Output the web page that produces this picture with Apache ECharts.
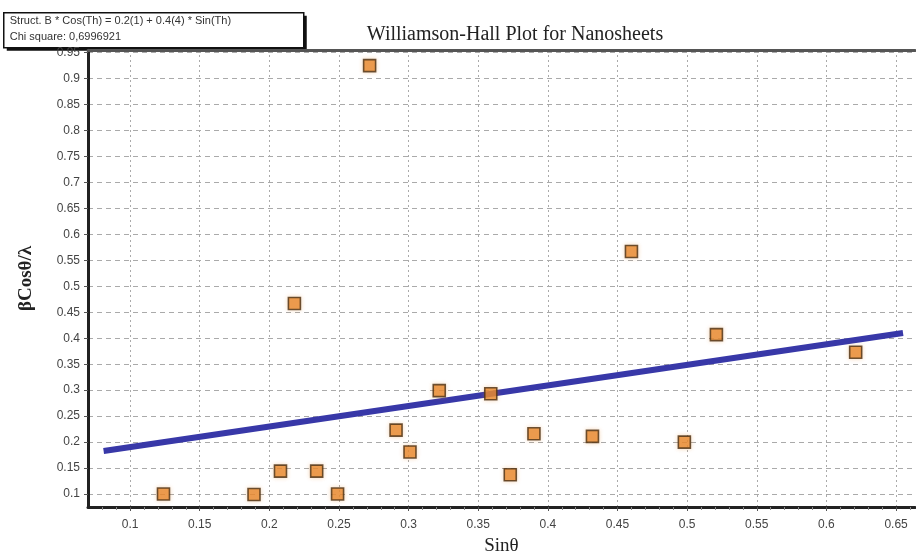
<!DOCTYPE html>
<html>
<head>
<meta charset="utf-8">
<script src="https://cdn.jsdelivr.net/npm/echarts@6/dist/echarts.min.js"></script>
<style>
html,body{margin:0;padding:0;background:#fff;}
#chart{width:916px;height:556px;}
</style>
</head>
<body>
<div id="chart"></div>
<script>
// Measured peak positions (sin θ) and β·cosθ/λ values
const sinTheta = [0.124, 0.189, 0.208, 0.234, 0.249, 0.218, 0.272, 0.291, 0.301, 0.322,
                  0.359, 0.373, 0.390, 0.432, 0.460, 0.498, 0.521, 0.621];
const betaCos  = [0.100, 0.099, 0.144, 0.144, 0.100, 0.467, 0.925, 0.223, 0.181, 0.299,
                  0.293, 0.137, 0.216, 0.211, 0.567, 0.200, 0.407, 0.373];

// Linear fit end points
const fitX = [0.081, 0.655];
const fitY = [0.183, 0.410];

// Tick labels
const xTicks = [0.1, 0.15, 0.2, 0.25, 0.3, 0.35, 0.4, 0.45, 0.5, 0.55, 0.6, 0.65];
const xMinorTicks = [0.08, 0.09, 0.11, 0.12, 0.13, 0.14, 0.16, 0.17, 0.18, 0.19, 0.21, 0.22, 0.23, 0.24,
                     0.26, 0.27, 0.28, 0.29, 0.31, 0.32, 0.33, 0.34, 0.36, 0.37, 0.38, 0.39, 0.41, 0.42,
                     0.43, 0.44, 0.46, 0.47, 0.48, 0.49, 0.51, 0.52, 0.53, 0.54, 0.56, 0.57, 0.58, 0.59,
                     0.61, 0.62, 0.63, 0.64, 0.66];
const yTicks = [0.1, 0.15, 0.2, 0.25, 0.3, 0.35, 0.4, 0.45, 0.5, 0.55, 0.6, 0.65,
                0.7, 0.75, 0.8, 0.85, 0.9, 0.95];

const fitLabel = ['Struct. B * Cos(Th) = 0.2(1) + 0.4(4) * Sin(Th)', 'Chi square: 0,6996921'];

const points = sinTheta.map((x, i) => [x, betaCos[i]]);
const fitLine = fitX.map((x, i) => [x, fitY[i]]);

const chart = echarts.init(document.getElementById('chart'));
const tickFont = { color: '#444', fontSize: 12, fontFamily: 'Liberation Sans, Arial, sans-serif' };
const X_MIN = 0.0698, X_MAX = 0.6636;

chart.setOption({
  backgroundColor: '#fff',
  animation: false,
  title: {
    text: 'Williamson-Hall Plot for Nanosheets',
    left: 510, top: 20, textAlign: 'center',
    textStyle: { fontFamily: 'Liberation Serif, Times New Roman, serif', fontWeight: 'normal', fontSize: 20, color: '#222' }
  },
  grid: { left: 88, right: 1, top: 50, bottom: 49, outerBoundsMode: 'none', containLabel: false },
  xAxis: [{
    type: 'value', min: X_MIN, max: X_MAX,
    name: 'Sinθ', nameLocation: 'middle', nameGap: 30,
    nameTextStyle: { fontFamily: 'Liberation Serif, Times New Roman, serif', fontSize: 19, color: '#222' },
    axisLine: { show: true, onZero: false, lineStyle: { color: '#222', width: 3 } },
    axisTick: { show: true, customValues: xTicks, length: 4, lineStyle: { color: '#555' } },
    axisLabel: { customValues: xTicks, margin: 12, formatter: v => String(+v.toFixed(2)), ...tickFont },
    splitLine: { show: true, customValues: xTicks, lineStyle: { color: '#aaa', type: [2, 3], width: 1 } }
  }, {
    // minor tick marks along the bottom axis
    type: 'value', position: 'bottom', min: X_MIN, max: X_MAX,
    axisLine: { show: false },
    axisTick: { show: true, customValues: xMinorTicks, length: 3, lineStyle: { color: '#888' } },
    axisLabel: { show: false }, splitLine: { show: false }
  }, {
    type: 'value', position: 'top', min: X_MIN, max: X_MAX,
    axisLine: { show: true, onZero: false, lineStyle: { color: '#555', width: 3 } },
    axisTick: { show: false }, axisLabel: { show: false }, splitLine: { show: false }
  }],
  yAxis: {
    type: 'value', min: 0.075, max: 0.955,
    name: 'βCosθ/λ', nameLocation: 'middle', nameGap: 52,
    nameTextStyle: { fontFamily: 'Liberation Serif, Times New Roman, serif', fontSize: 19, fontWeight: 'bold', color: '#222' },
    axisLine: { show: true, onZero: false, lineStyle: { color: '#222', width: 3 } },
    axisTick: { show: true, customValues: yTicks, length: 4, lineStyle: { color: '#555' } },
    axisLabel: { customValues: yTicks, margin: 8, formatter: v => String(+v.toFixed(2)), ...tickFont },
    splitLine: { show: true, customValues: yTicks, lineStyle: { color: '#aaa', type: [5, 4], width: 1 } }
  },
  series: [{
    type: 'line', data: fitLine, showSymbol: false, symbol: 'none',
    lineStyle: { color: '#3838a8', width: 6 }, z: 3
  }, {
    type: 'scatter', data: points, symbol: 'rect', symbolSize: 12,
    itemStyle: { color: '#e8892f', borderColor: '#4a2e12', borderWidth: 1.6,
                 shadowColor: 'rgba(230,140,50,0.35)', shadowBlur: 4 }, z: 4
  }],
  graphic: [{
    type: 'group', left: 3, top: 12,
    children: [
      { type: 'rect', shape: { x: 3, y: 3, width: 300, height: 35 }, style: { fill: '#111' } },
      { type: 'rect', shape: { x: 0, y: 0, width: 300, height: 35 }, style: { fill: '#fff', stroke: '#111', lineWidth: 1.5 } },
      { type: 'text', x: 6, y: 3, style: { text: fitLabel[0], fontSize: 11, fontFamily: 'Liberation Sans, Arial, sans-serif', fill: '#333' } },
      { type: 'text', x: 6, y: 19, style: { text: fitLabel[1], fontSize: 11, fontFamily: 'Liberation Sans, Arial, sans-serif', fill: '#333' } }
    ]
  }]
});
</script>
</body>
</html>
